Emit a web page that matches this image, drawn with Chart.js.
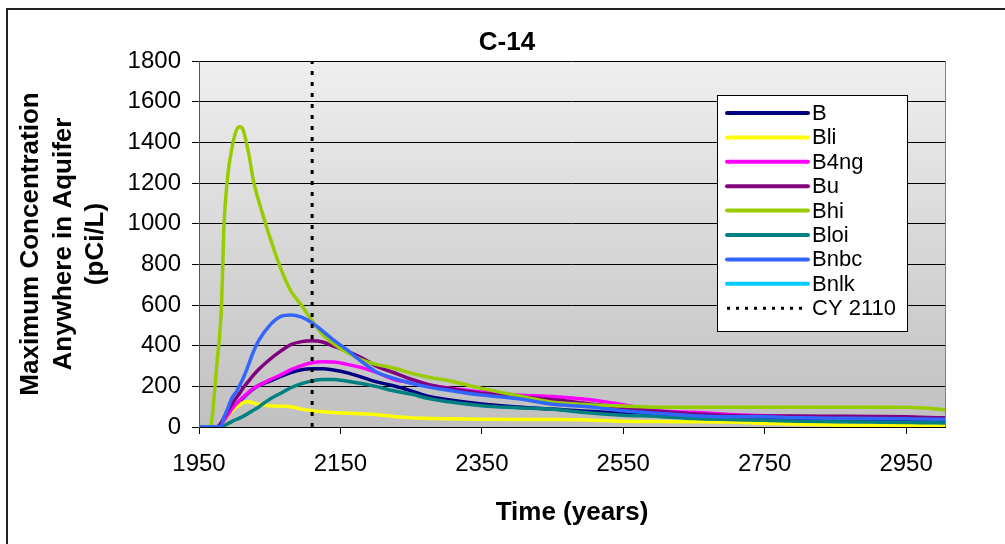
<!DOCTYPE html>
<html>
<head>
<meta charset="utf-8">
<script src="https://cdn.jsdelivr.net/npm/chart.js@4"></script>
<style>
  html, body { margin: 0; padding: 0; background: #fff; }
  #wrap { width: 1005px; height: 544px; position: relative; }
</style>
</head>
<body>
<div id="wrap"><canvas id="c" width="1005" height="544"></canvas></div>
<script>
// Simulation years (x values shared by every series)
const years = [1950,1966,1968,1975,1982,1985,1990,1997,2003,2008,2012,2020,2027,2035,2050,2065,2080,2095,2110,2125,2140,2160,2180,2200,2225,2250,2275,2300,2350,2400,2450,2500,2550,2600,2650,2700,2750,2800,2850,2900,2950,2970,3005];

// Maximum C-14 concentration anywhere in the aquifer (pCi/L), one array per case
const caseB    = [0,0,0,0,15,28,52,85,110,128,142,168,188,205,226,248,268,282,286,286,280,266,245,223,203,178,150,135,113,98,88,78,68,58,52,45,40,36,33,31,30,29,28];
const caseBli  = [0,0,0,0,10,25,50,80,98,110,120,124,118,112,105,102,100,88,80,75,71,68,65,62,52,45,42,40,38,37,37,35,28,27,26,24,18,13,10,8,6,5,5];
const caseB4ng = [0,0,0,0,15,30,55,90,115,133,145,170,190,205,232,255,282,302,316,321,320,308,292,270,235,218,205,193,172,158,150,135,110,80,72,62,55,50,48,46,45,44,42];
const caseBu   = [0,0,0,0,25,45,75,115,145,168,190,225,255,285,332,372,405,420,424,418,398,372,340,300,268,235,208,192,166,150,135,115,95,78,65,57,54,54,53,52,51,48,45];
const caseBhi  = [0,0,30,300,610,961,1215,1379,1461,1477,1465,1350,1210,1105,936,785,668,598,522,455,410,365,330,308,290,265,245,230,190,155,122,110,103,97,97,97,97,97,97,97,97,95,85];
const caseBloi = [0,0,0,0,0,5,15,28,37,45,52,68,83,100,137,165,193,213,227,234,234,225,214,200,178,162,140,125,105,95,87,70,58,52,42,37,33,28,26,24,22,21,20];
const caseBnbc = [0,0,0,0,8,44,85,146,174,208,236,306,370,428,500,543,551,540,512,472,428,378,322,272,240,215,196,182,157,140,112,100,80,67,55,50,50,45,43,42,40,39,38];
const caseBnlk = [];

const caseNames  = ['B','Bli','B4ng','Bu','Bhi','Bloi','Bnbc','Bnlk'];
const caseValues = [caseB, caseBli, caseB4ng, caseBu, caseBhi, caseBloi, caseBnbc, caseBnlk];
const caseColors = ['#000080','#FFFF00','#FF00FF','#800080','#99CC00','#008080','#3366FF','#00CCFF'];

// Compliance year marker
const markerLabel = 'CY 2110';
const markerYear = 2110;

// Axis ticks
const yearTicks = [1950,2150,2350,2550,2750,2950];
const concTicks = [0,200,400,600,800,1000,1200,1400,1600,1800];

const FONT = "'Liberation Sans', Arial, sans-serif";

const datasets = caseNames.map((name, i) => ({
  label: name,
  data: caseValues[i].map((v, k) => ({ x: years[k], y: v })),
  borderColor: caseColors[i],
  backgroundColor: caseColors[i],
  borderWidth: 3.5,
  pointRadius: 0,
  cubicInterpolationMode: 'monotone',
  fill: false,
  order: caseNames.length - i   // later cases drawn on top
}));
datasets.push({
  label: markerLabel,
  data: [{ x: markerYear, y: concTicks[0] }, { x: markerYear, y: concTicks[concTicks.length - 1] }],
  borderColor: '#000',
  borderWidth: 3,
  borderDash: [4, 7],
  borderCapStyle: 'butt',
  pointRadius: 0,
  fill: false,
  order: 0,
  isMarker: true
});

// White page, outer frame and shaded plot area
const backdrop = {
  id: 'backdrop',
  beforeDraw(chart) {
    const { ctx, chartArea: a } = chart;
    ctx.save();
    ctx.fillStyle = '#fff';
    ctx.fillRect(0, 0, chart.width, chart.height);
    ctx.strokeStyle = '#222';
    ctx.lineWidth = 2;
    ctx.strokeRect(7, 9, chart.width + 20, chart.height + 20);
    const g = ctx.createLinearGradient(0, a.top, 0, a.bottom);
    g.addColorStop(0, '#efefef');
    g.addColorStop(1, '#c0c0c0');
    ctx.fillStyle = g;
    ctx.fillRect(a.left, a.top, a.right - a.left, a.bottom - a.top);
    ctx.restore();
  },
  beforeDatasetsDraw(chart) {
    const { ctx, chartArea: a } = chart;
    ctx.save();
    ctx.strokeStyle = '#808080';
    ctx.lineWidth = 1;
    ctx.beginPath();
    ctx.moveTo(a.right + 0.5, a.top);
    ctx.lineTo(a.right + 0.5, a.bottom);
    ctx.stroke();
    ctx.restore();
  }
};

// Chart heading
const heading = {
  id: 'heading',
  afterDraw(chart) {
    const { ctx } = chart;
    ctx.save();
    ctx.fillStyle = '#000';
    ctx.font = `bold 26px ${FONT}`;
    ctx.textAlign = 'center';
    ctx.textBaseline = 'middle';
    ctx.fillText('C-14', 507, 43);
    ctx.restore();
  }
};

// Boxed legend inside the plot area
const boxLegend = {
  id: 'boxLegend',
  afterDatasetsDraw(chart) {
    const { ctx, chartArea: a } = chart;
    const left = a.right - 228, top = a.top + 34, w = 190, h = 236;
    ctx.save();
    ctx.fillStyle = '#fff';
    ctx.fillRect(left, top, w, h);
    ctx.strokeStyle = '#000';
    ctx.lineWidth = 1;
    ctx.strokeRect(left + 0.5, top + 0.5, w, h);
    ctx.font = `22px ${FONT}`;
    ctx.textBaseline = 'middle';
    ctx.textAlign = 'left';
    chart.data.datasets.forEach((ds, i) => {
      const y = top + 18 + i * 24.4;
      ctx.beginPath();
      ctx.strokeStyle = ds.borderColor;
      ctx.lineWidth = ds.isMarker ? 3 : 4;
      ctx.setLineDash(ds.isMarker ? [3, 6] : []);
      ctx.lineCap = ds.isMarker ? 'butt' : 'round';
      ctx.moveTo(left + 10, y);
      ctx.lineTo(left + 91, y);
      ctx.stroke();
      ctx.setLineDash([]);
      ctx.fillStyle = '#000';
      ctx.fillText(ds.label, left + 95, y + 1);
    });
    ctx.restore();
  }
};

new Chart(document.getElementById('c'), {
  type: 'line',
  data: { datasets },
  options: {
    responsive: false,
    devicePixelRatio: 1,
    animation: false,
    layout: { padding: { left: 0, right: 60, top: 61, bottom: 0 } },
    plugins: {
      legend: { display: false },
      tooltip: { enabled: false },
      title: { display: false }
    },
    scales: {
      x: {
        type: 'linear',
        min: 1950,
        max: 3005,
        afterFit(scale) { scale.height = 117; },
        afterBuildTicks(scale) { scale.ticks = yearTicks.map(v => ({ value: v })); },
        ticks: {
          font: { family: FONT, size: 24 },
          color: '#000',
          padding: 16,
          maxRotation: 0,
          autoSkip: false,
          callback: v => String(v)
        },
        grid: { drawOnChartArea: false, drawTicks: true, tickLength: 7, color: '#000', lineWidth: 1 },
        border: { display: true, color: '#000', width: 1 },
        title: {
          display: true,
          text: 'Time (years)',
          font: { family: FONT, size: 26, weight: 'bold' },
          color: '#000',
          padding: { top: 0, bottom: 16 }
        }
      },
      y: {
        min: 0,
        max: 1800,
        afterFit(scale) { scale.width = 199; },
        afterBuildTicks(scale) { scale.ticks = concTicks.map(v => ({ value: v })); },
        ticks: {
          font: { family: FONT, size: 24 },
          color: '#000',
          padding: 11,
          callback: v => String(v)
        },
        grid: { color: '#000', lineWidth: 1, drawTicks: true, tickLength: 7 },
        border: { display: true, color: '#555', width: 1 },
        title: {
          display: true,
          text: ['Maximum Concentration', 'Anywhere in Aquifer', '(pCi/L)'],
          font: { family: FONT, size: 26, weight: 'bold', lineHeight: 1.25 },
          color: '#000',
          padding: { top: 15, bottom: 0 }
        }
      }
    }
  },
  plugins: [backdrop, heading, boxLegend]
});
</script>
</body>
</html>
